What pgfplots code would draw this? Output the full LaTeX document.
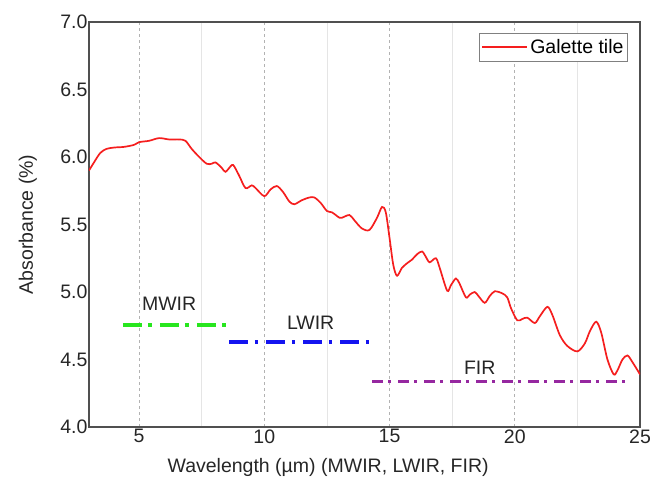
\documentclass[border=0pt]{standalone}
\usepackage{pgfplots}
\pgfplotsset{compat=1.18}
\usepackage{fontspec}
\setmainfont{Liberation Sans}
\newcommand{\fs}{\fontsize{19.5}{23}\selectfont}
\definecolor{curvered}{RGB}{245,30,30}
\definecolor{mwir}{RGB}{40,230,30}
\definecolor{lwir}{RGB}{20,20,240}
\definecolor{fir}{RGB}{150,40,160}
\definecolor{axgray}{RGB}{80,80,80}
\begin{document}
\begin{tikzpicture}
\begin{axis}[
  scale only axis,
  width=551pt, height=405pt,
  xmin=3, xmax=25, ymin=4, ymax=7,
  xtick={5,10,15,20,25},
  minor xtick={7.5,12.5,17.5,22.5},
  ytick={4,4.5,...,7},
  yticklabel style={/pgf/number format/fixed, /pgf/number format/fixed zerofill,
    /pgf/number format/precision=1, xshift=2pt},
  /pgf/number format/assume math mode=true,
  tick label style={font=\fs, text=black!85},
  label style={font=\fs, text=black!85},
  major tick length=0pt, minor tick length=0pt,
  tick align=inside,
  xtick pos=bottom, ytick pos=left,
  xticklabel style={yshift=1pt},
  xmajorgrids, xminorgrids,
  major grid style={dashed, gray!60, line width=0.6pt},
  minor grid style={gray!20, line width=0.6pt},
  axis line style={axgray, line width=1.6pt},
  xlabel={Wavelength (µm) (MWIR, LWIR, FIR)},
  ylabel={Absorbance (\%)},
  xlabel style={at={(axis description cs:0.434,-0.101)}, anchor=center},
  ylabel style={at={(axis description cs:-0.111,0.5)}, anchor=center},
  legend style={at={(axis description cs:0.978,0.973)}, anchor=north east,
    draw=gray, line width=0.8pt, font=\fs, inner xsep=2pt, inner ysep=4pt,
    legend cell align=left},
  legend image code/.code={\draw[#1] (-3pt,0pt) -- (42pt,0pt);},
]
\addplot[curvered, line width=1.7pt, smooth, tension=0.5] coordinates {
(3.0,5.90) (3.2,5.96) (3.45,6.03) (3.7,6.06) (4.0,6.07) (4.4,6.075)
(4.8,6.09) (5.0,6.11) (5.4,6.12) (5.8,6.14) (6.2,6.13) (6.6,6.13)
(6.85,6.12) (7.1,6.06) (7.4,6.00) (7.7,5.95) (7.9,5.95) (8.05,5.96)
(8.3,5.92) (8.45,5.89) (8.7,5.94) (8.8,5.93) (9.0,5.86) (9.25,5.77)
(9.5,5.79) (9.65,5.77) (10.0,5.71) (10.25,5.76) (10.5,5.785) (10.75,5.74)
(11.0,5.67) (11.2,5.65) (11.5,5.68) (11.8,5.70) (12.0,5.70) (12.25,5.66)
(12.5,5.60) (12.7,5.59) (13.0,5.55) (13.1,5.55) (13.4,5.57) (13.6,5.53)
(13.9,5.47) (14.2,5.46) (14.5,5.55) (14.7,5.63) (14.85,5.59) (15.0,5.40)
(15.15,5.20) (15.3,5.12) (15.5,5.18) (15.75,5.22) (15.9,5.24) (16.1,5.28)
(16.3,5.30) (16.45,5.26) (16.6,5.22) (16.85,5.25) (17.0,5.18) (17.3,5.01)
(17.45,5.05) (17.65,5.10) (17.8,5.06) (18.05,4.96) (18.2,4.98) (18.4,5.00)
(18.55,4.97) (18.8,4.92) (19.0,4.97) (19.2,5.005) (19.5,4.99) (19.7,4.96)
(19.85,4.88) (20.1,4.79) (20.3,4.80) (20.5,4.81) (20.8,4.77) (21.0,4.82)
(21.3,4.89) (21.5,4.83) (21.8,4.68) (22.1,4.60) (22.5,4.56) (22.8,4.62)
(23.0,4.71) (23.25,4.78) (23.45,4.70) (23.7,4.50) (23.95,4.39) (24.1,4.42)
(24.3,4.50) (24.5,4.53) (24.7,4.48) (25.0,4.39)
};
\addlegendentry{Galette tile}

% spectral bands
\addplot[mwir, line width=3.4pt, dash pattern=on 19pt off 6.5pt on 3.5pt off 8pt, forget plot]
  coordinates {(4.35,4.755) (8.5,4.755)};
\addplot[lwir, line width=3.4pt, dash pattern=on 19pt off 6.5pt on 3.5pt off 8pt, forget plot]
  coordinates {(8.6,4.63) (14.2,4.63)};
\addplot[fir, line width=2.6pt, dash pattern=on 11pt off 5pt on 3pt off 7pt, forget plot]
  coordinates {(14.3,4.335) (24.55,4.335)};

\node[font=\fs, text=black!85] at (axis cs:6.2,4.91) {MWIR};
\node[font=\fs, text=black!85] at (axis cs:11.85,4.77) {LWIR};
\node[font=\fs, text=black!85] at (axis cs:18.6,4.44) {FIR};
\end{axis}
\pgfresetboundingbox
\path ([shift={(-89pt,-54pt)}]current axis.south west) rectangle ([shift={(13pt,22pt)}]current axis.north east);
\end{tikzpicture}
\end{document}
